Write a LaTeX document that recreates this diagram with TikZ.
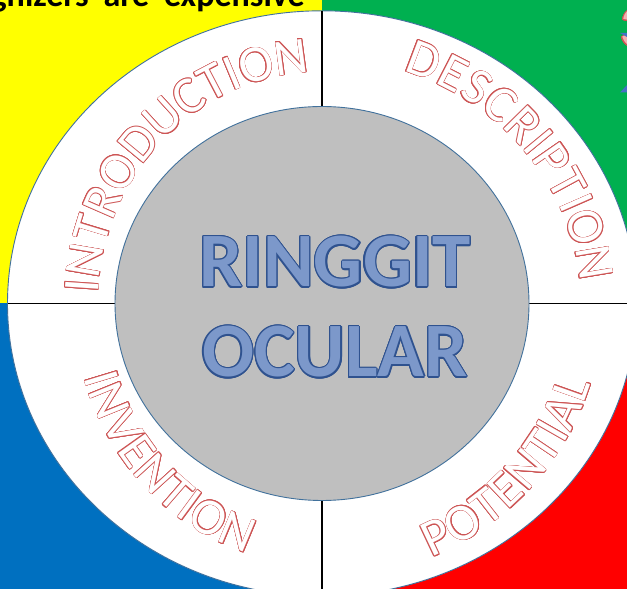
\documentclass[tikz,border=0pt]{standalone}
\usepackage{fontspec}
\setmainfont{Carlito}
\usepackage{contour}
\contourlength{0.6pt}
\definecolor{qyellow}{RGB}{255,255,0}
\definecolor{qgreen}{RGB}{0,176,80}
\definecolor{qblue}{RGB}{0,112,192}
\definecolor{qred}{RGB}{255,0,0}
\definecolor{edgeblue}{RGB}{65,113,156}
\definecolor{ringgray}{RGB}{191,191,191}
\definecolor{arcred}{RGB}{205,85,85}
\definecolor{titlefill}{RGB}{124,152,202}
\definecolor{titleedge}{RGB}{47,82,143}
\definecolor{pinkfill}{RGB}{244,177,177}
\definecolor{triblue}{RGB}{68,114,196}
\newdimen\arcW
\newdimen\arcPos
\newcommand\ArcFont{\fontsize{52}{52}\selectfont}
\newcommand\ArcTrack{1pt}
\AtBeginDocument{%
  \foreach \L in {A,B,C,D,E,F,G,H,I,J,K,L,M,N,O,P,Q,R,S,T,U,V,W,X,Y,Z}{%
    \setbox0=\hbox{\ArcFont\L}%
    \expandafter\xdef\csname aw@\L\endcsname{\the\dimexpr\wd0+\ArcTrack\relax}}%
}
% #1 name prefix, #2 letters, #3 rx, #4 ry, #5 centre angle,
% #6 direction (1 over the top, -1 under the bottom), #7 spacing factor
\newcommand\ArcText[7]{%
  \global\arcW=0pt
  \foreach \ch in {#2}{\global\advance\arcW by \csname aw@\ch\endcsname\relax}%
  \edef\arcWv{\the\arcW}%
  \pgfmathsetmacro\arcR{((#3)+(#4))/2/(#7)}%
  \pgfmathsetmacro\arcStart{(#5)+(#6)*\arcWv/\arcR*28.64789}%
  \global\arcPos=0pt
  \foreach \ch [count=\k] in {#2}{%
    \edef\chw{\csname aw@\ch\endcsname}\edef\posv{\the\arcPos}%
    \pgfmathsetmacro\angT{\arcStart-(#6)*(\posv+0.5*\chw)/\arcR*57.29578}%
    \pgfmathsetmacro\arcPX{322+(#3)*cos(\angT)}%
    \pgfmathsetmacro\arcPY{285.5+(#4)*sin(\angT)}%
    \pgfmathsetmacro\arcRot{atan2(-(#6)*(#4)*cos(\angT),(#6)*(#3)*sin(\angT))}%
    \node[arcletter, rotate=\arcRot, name=#1\k] at (\arcPX,\arcPY) {\contour{arcred}{\ch}};
    \global\advance\arcPos by \chw\relax
  }%
}
\tikzset{
  arcletter/.style={anchor=base, inner sep=0pt, text=white, font=\ArcFont},
  titletext/.style={anchor=base, inner sep=0pt, text=titlefill, font=\fontsize{77}{77}\selectfont\bfseries},
  divider/.style={line width=1.5pt, black},
  rim/.style={draw=edgeblue, line width=0.9pt}
}
\begin{document}
\begin{tikzpicture}[x=1pt,y=1pt]
\useasboundingbox (0,0) rectangle (627,589);
\clip (0,0) rectangle (627,589);
% quadrants
\fill[qyellow] (0,285.5) rectangle (322,589);
\fill[qgreen] (322,285.5) rectangle (627,589);
\fill[qblue] (0,0) rectangle (322,285.5);
\fill[qred] (322,0) rectangle (627,285.5);
% white ring
\coordinate (C) at (322,285.5);
\draw[rim, fill=white] (C) ellipse [x radius=314.5pt, y radius=292.7pt];
% dividers
\coordinate (vtop) at (322,578.2);
\coordinate (vbot) at (322,0);
\coordinate (hleft) at (7.5,285.5);
\coordinate (hright) at (627,285.5);
\draw[divider] (vtop) -- (vbot);
\draw[divider] (hleft) -- (hright);
% inner disc
\draw[rim, fill=ringgray] (C) ellipse [x radius=207pt, y radius=197pt];
% arc words
\ArcText{intro}{I,N,T,R,O,D,U,C,T,I,O,N}{224}{231.5}{135.4}{1}{0.97}
\ArcText{desc}{D,E,S,C,R,I,P,T,I,O,N}{259}{245}{38.5}{1}{1}
\ArcText{inv}{I,N,V,E,N,T,I,O,N}{248}{262}{224.3}{-1}{1}
\ArcText{pot}{P,O,T,E,N,T,I,A,L}{281}{276}{318}{-1}{1}
% title
\node[titletext] (t1) at (335,302) {\contourlength{1.2pt}\contour{titleedge}{RINGGIT}};
\node[titletext] (t2) at (335,212) {\contourlength{1.2pt}\contour{titleedge}{OCULAR}};
% header fragment
\node[anchor=base east, inner sep=0pt, font=\fontsize{34}{34}\selectfont\bfseries] (hdr) at (305,582.5) {\spaceskip=15pt\relax gnizers are expensive};
% top-right fragments
\node[anchor=base west, inner sep=0pt, text=pinkfill, font=\fontsize{58}{58}\selectfont\bfseries] (three) at (620,542) {\contour{arcred}{3}};
\fill[triblue] (620,556) -- (627,556) -- (627,552) -- cycle;
\fill[triblue] (620,496.5) -- (627,496.5) -- (627,504) -- cycle;
\end{tikzpicture}
\end{document}
